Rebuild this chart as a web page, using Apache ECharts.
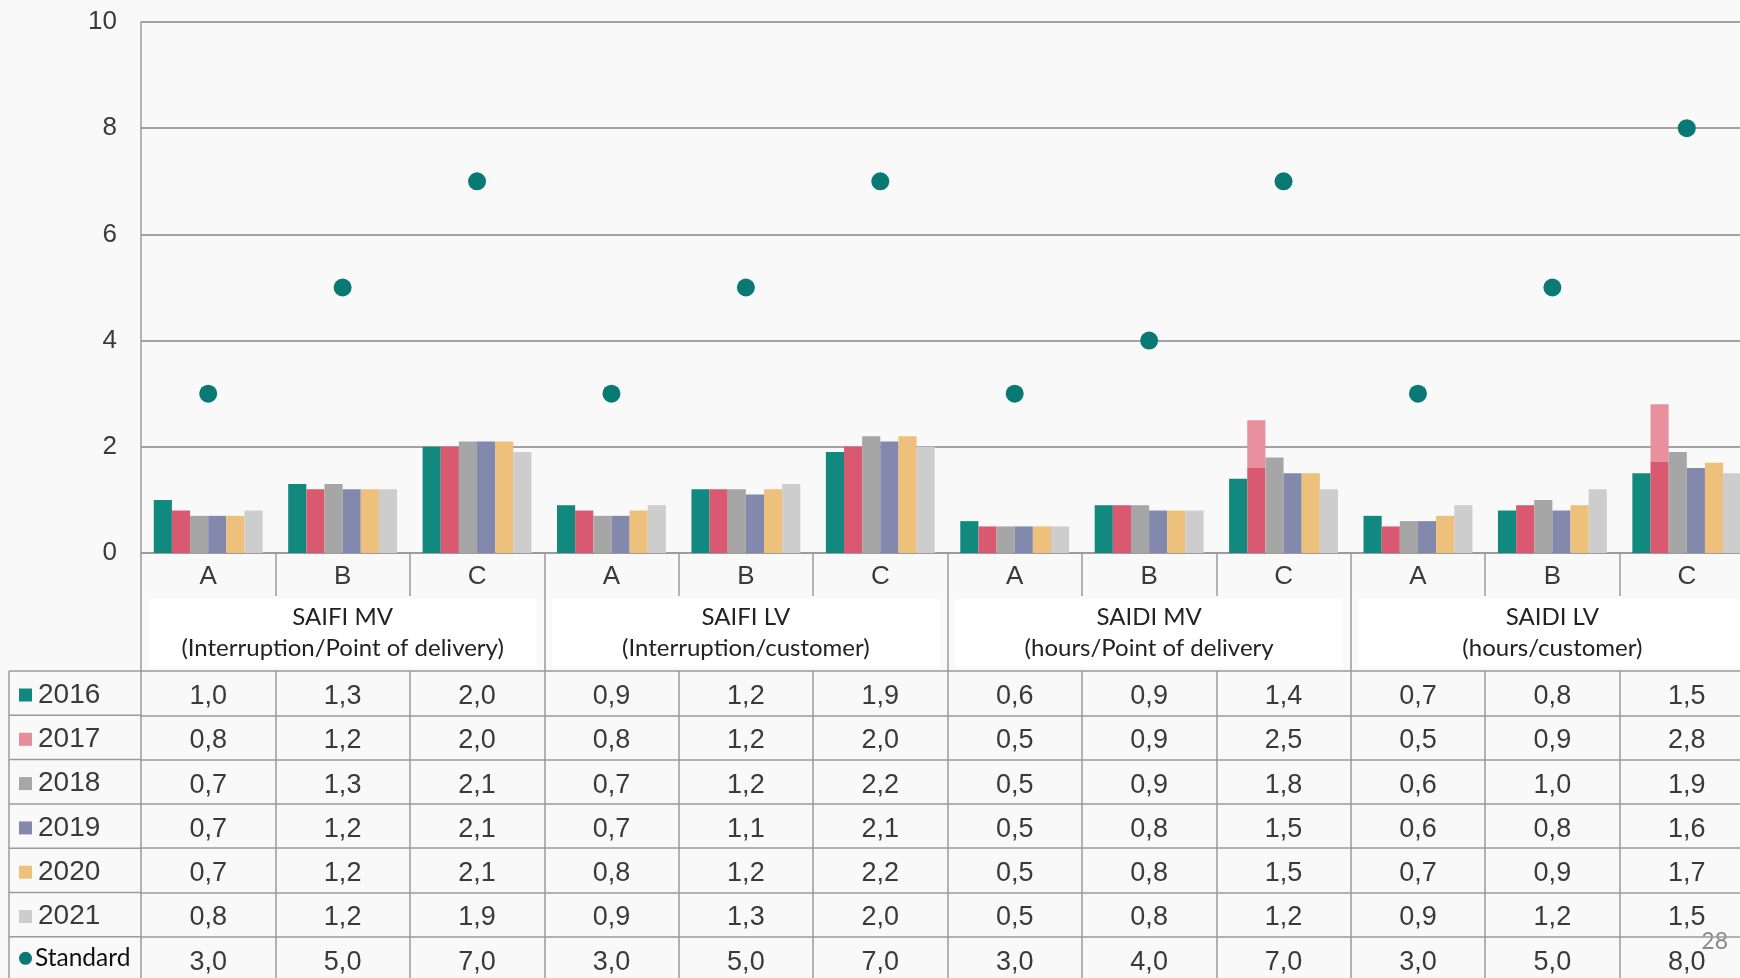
<!DOCTYPE html>
<html>
<head>
<meta charset="utf-8">
<script src="https://cdn.jsdelivr.net/npm/echarts@6/dist/echarts.min.js"></script>
<style>
html,body{margin:0;padding:0;background:#f9f9f9;}
#chart{width:1740px;height:978px;}
</style>
</head>
<body>
<div id="chart"></div>
<script>
// ---------------- DATA ----------------
const categories = ['A','B','C','A','B','C','A','B','C','A','B','C'];
const groupLabels = [
  'SAIFI MV\n(Interruption/Point of delivery)',
  'SAIFI LV\n(Interruption/customer)',
  'SAIDI MV\n(hours/Point of delivery',
  'SAIDI LV\n(hours/customer)'
];
const seriesNames = ['2016','2017','2018','2019','2020','2021'];
const v2016 = [1.0,1.3,2.0, 0.9,1.2,1.9, 0.6,0.9,1.4, 0.7,0.8,1.5];
const v2017 = [0.8,1.2,2.0, 0.8,1.2,2.0, 0.5,0.9,2.5, 0.5,0.9,2.8];
const v2018 = [0.7,1.3,2.1, 0.7,1.2,2.2, 0.5,0.9,1.8, 0.6,1.0,1.9];
const v2019 = [0.7,1.2,2.1, 0.7,1.1,2.1, 0.5,0.8,1.5, 0.6,0.8,1.6];
const v2020 = [0.7,1.2,2.1, 0.8,1.2,2.2, 0.5,0.8,1.5, 0.7,0.9,1.7];
const v2021 = [0.8,1.2,1.9, 0.9,1.3,2.0, 0.5,0.8,1.2, 0.9,1.2,1.5];
const standardName = 'Standard';
const standard = [3.0,5.0,7.0, 3.0,5.0,7.0, 3.0,4.0,7.0, 3.0,5.0,8.0];
const yMin = 0, yMax = 10, yInterval = 2;
const pageNumber = '28';

// ---------------- STYLE / LAYOUT ----------------
const barColors = ['#12897f','#d95a70','#a6a6a6','#8388ad','#edc07b','#cdcdcd'];
const legendColors = ['#12897f','#e58d9b','#a6a6a6','#8388ad','#edc07b','#cdcdcd'];
const standardColor = '#087a73';
const light2017 = '#e8909e';
// upper lighter portion of two 2017 bars (fraction of bar height), as in the picture
const twoTone2017 = {8: 0.36, 11: 0.39};
const LINE = '#9b9b9b';
const TXT = '#3a3a3a';
const ARIAL = '"Liberation Sans", Arial, sans-serif';
const CAL = 'Lato, "Open Sans", sans-serif';

const G = {left:141, right:-14, top:22, base:553, catRow:43, groupRow:75, rowH:44.3, tableLeft:9, H:978};
const tableTop = G.base + G.catRow + G.groupRow;

const fmt = v => v.toFixed(1).replace('.', ',');
const allYears = [v2016, v2017, v2018, v2019, v2020, v2021];

const rows = seriesNames.map((n, i) => ({name: n, values: allYears[i], square: true, color: legendColors[i], font: ARIAL}))
  .concat([{name: standardName, values: standard, square: false, color: standardColor, font: CAL}]);

const lineStyle = {color: LINE, width: 1.5};

const xAxes = [
  {
    type: 'category', data: categories, position: 'bottom', offset: 0,
    axisLine: {show: true, onZero: false, lineStyle: lineStyle},
    axisTick: {show: true, interval: 0, length: G.catRow, lineStyle: lineStyle},
    axisLabel: {interval: 0, margin: 11, fontSize: 26, color: TXT, fontFamily: ARIAL},
    splitLine: {show: false}
  },
  {
    type: 'category', data: groupLabels, position: 'bottom', offset: G.catRow,
    axisLine: {show: false, onZero: false},
    axisTick: {show: true, interval: 0, length: G.groupRow, lineStyle: lineStyle},
    axisLabel: {interval: 0, margin: 3, fontSize: 24, lineHeight: 31, color: '#222', fontFamily: CAL,
      backgroundColor: '#ffffff', width: 388, padding: [3, 0, 3, 0], align: 'center'},
    splitLine: {show: false}
  }
].concat(rows.map((r, i) => ({
  type: 'category', data: r.values.map(fmt), position: 'bottom',
  offset: G.catRow + G.groupRow + G.rowH * i,
  axisLine: {show: true, onZero: false, lineStyle: lineStyle},
  axisTick: {show: true, interval: 0, length: G.rowH, lineStyle: lineStyle},
  axisLabel: {interval: 0, margin: 12, fontSize: 27, color: TXT, fontFamily: ARIAL},
  splitLine: {show: false},
  name: '{m| }{t|' + r.name + '}',
  nameLocation: 'start',
  nameGap: G.left - G.tableLeft - 10,
  nameTextStyle: {
    align: 'left', verticalAlign: 'top', padding: [r.square ? 10 : 9, 0, 0, 0],
    rich: {
      m: {width: 13, height: 13, fontSize: 4, backgroundColor: r.color, borderRadius: r.square ? 0 : 7,
          verticalAlign: 'middle'},
      t: {fontSize: r.square ? 28 : 24.5, color: r.square ? TXT : '#111', fontFamily: r.font,
          padding: [0, 0, 0, r.square ? 6 : 3]}
    }
  }
})));

const barSeries = seriesNames.map((n, i) => ({
  name: n, type: 'bar', xAxisIndex: 0, yAxisIndex: 0,
  barGap: '0%', barCategoryGap: '19%',
  itemStyle: {color: barColors[i]},
  data: allYears[i].map((v, k) => {
    if (i === 1 && twoTone2017[k] !== undefined) {
      const f = twoTone2017[k];
      return {value: v, itemStyle: {color: new echarts.graphic.LinearGradient(0, 0, 0, 1, [
        {offset: 0, color: light2017}, {offset: f, color: light2017},
        {offset: f, color: barColors[1]}, {offset: 1, color: barColors[1]}
      ])}};
    }
    return v;
  })
}));

// left column border lines of the table
const graphics = [];
for (let i = 0; i < rows.length; i++) {
  const y = tableTop + G.rowH * i;
  graphics.push({type: 'line', shape: {x1: G.tableLeft, y1: y, x2: G.left, y2: y}, style: {stroke: LINE, lineWidth: 1.5}, silent: true});
}
graphics.push({type: 'line', shape: {x1: G.tableLeft, y1: tableTop, x2: G.tableLeft, y2: G.H}, style: {stroke: LINE, lineWidth: 1.5}, silent: true});
graphics.push({type: 'text', right: 12, top: 930, style: {text: pageNumber, fontSize: 23, fill: '#8a8a8a', fontFamily: CAL}, silent: true});

const chart = echarts.init(document.getElementById('chart'), null, {renderer: 'canvas'});
chart.setOption({
  backgroundColor: '#f9f9f9',
  animation: false,
  grid: {left: G.left, right: G.right, top: G.top, bottom: G.H - G.base, containLabel: false, outerBoundsMode: 'none'},
  xAxis: xAxes,
  yAxis: {
    type: 'value', min: yMin, max: yMax, interval: yInterval,
    axisLine: {show: true, lineStyle: lineStyle},
    axisTick: {show: false},
    axisLabel: {fontSize: 26, color: TXT, fontFamily: ARIAL, margin: 24},
    splitLine: {show: true, lineStyle: {color: '#a3a3a3', width: 2}}
  },
  series: barSeries.concat([{
    name: standardName, type: 'scatter', xAxisIndex: 0, yAxisIndex: 0,
    symbol: 'circle', symbolSize: 18, itemStyle: {color: standardColor, opacity: 1}, z: 5,
    data: standard
  }]),
  graphic: graphics
});
</script>
</body>
</html>
